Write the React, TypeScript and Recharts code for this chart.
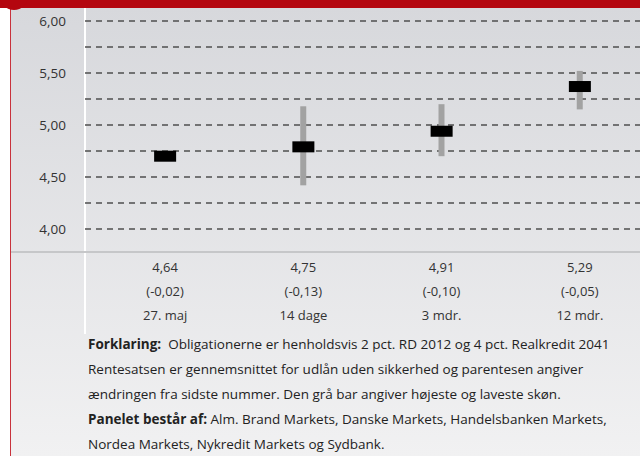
import { Bar, CartesianGrid, ComposedChart, Scatter, XAxis, YAxis } from "recharts";

// values
const categories = ["27. maj", "14 dage", "3 mdr.", "12 mdr."];
const rates = [4.64, 4.75, 4.91, 5.29];
const changes = [-0.02, -0.13, -0.1, -0.05];
const marks = [4.7, 4.79, 4.94, 5.37];
const lows = [null, 4.42, 4.7, 5.15];
const highs = [null, 5.18, 5.2, 5.52];
const yTicks = [4, 4.25, 4.5, 4.75, 5, 5.25, 5.5, 5.75, 6];

const data = categories.map((name, i) => ({
  name,
  mark: marks[i],
  range: lows[i] == null ? null : [lows[i], highs[i]],
}));

const FONT = "'Open Sans', 'Liberation Sans', sans-serif";
const fmt = (v: number) => v.toFixed(2).replace(".", ",");

function CategoryTick(props: any) {
  const { x, y, payload } = props;
  const i = payload.index;
  const style = { fontFamily: FONT, fontSize: 13, fill: "#333" };
  return (
    <g>
      <text x={x} y={y + 35} textAnchor="middle" style={style}>
        {fmt(rates[i])}
      </text>
      <text x={x} y={y + 59} textAnchor="middle" style={style}>
        ({fmt(changes[i])})
      </text>
      <text x={x} y={y + 83} textAnchor="middle" style={style}>
        {categories[i]}
      </text>
    </g>
  );
}

function MarkBox(props: any) {
  const { cx, cy } = props;
  if (cx == null || cy == null) return null;
  return <rect x={cx - 11} y={cy - 5.5} width={22} height={11} fill="#000" />;
}

export default function App() {
  return (
    <div
      style={{
        position: "absolute",
        left: 0,
        top: 0,
        width: 640,
        height: 456,
        overflow: "hidden",
        background: "#fff",
        fontFamily: FONT,
      }}
    >
      {/* panel background */}
      <div
        style={{
          position: "absolute",
          left: 10,
          top: 8,
          right: 0,
          bottom: 0,
          background: "linear-gradient(#d7d8dc, #f1f1f2)",
          borderLeft: "1px solid #c8323c",
        }}
      />
      {/* white column divider */}
      <div style={{ position: "absolute", left: 84, top: 8, width: 1.5, height: 326, background: "#fff" }} />
      {/* separator between plot and table */}
      <div style={{ position: "absolute", left: 11, right: 0, top: 251, height: 2, background: "#c6c7c9" }} />

      <div style={{ position: "absolute", left: 0, top: 0 }}>
        <ComposedChart width={649} height={330} data={data} margin={{ top: 21, right: 0, bottom: 0, left: 10 }}>
          <CartesianGrid vertical={false} stroke="#4f4f4f" strokeDasharray="6 5" strokeWidth={1.3} />
          <XAxis
            dataKey="name"
            axisLine={false}
            tickLine={false}
            height={101}
            padding={{ left: 11, right: 0 }}
            interval={0}
            tick={<CategoryTick />}
          />
          <YAxis
            domain={[4, 6]}
            ticks={yTicks}
            interval={0}
            width={75}
            axisLine={false}
            tickLine={false}
            tickMargin={13}
            tickFormatter={(v: number) => (Math.round(v * 100) % 50 === 0 ? fmt(v) : "")}
            tick={{ fontFamily: FONT, fontSize: 13.5, fill: "#333" }}
          />
          <Bar dataKey="range" barSize={6} fill="#a2a2a2" isAnimationActive={false} />
          <Scatter dataKey="mark" shape={<MarkBox />} isAnimationActive={false} />
        </ComposedChart>
      </div>

      {/* red header strip */}
      <div style={{ position: "absolute", left: 0, top: 0, right: 0, height: 8, background: "#b4060f" }} />
      <div
        style={{
          position: "absolute",
          left: 0,
          top: -18,
          width: 28,
          height: 28,
          borderRadius: 14,
          background: "#b4060f",
        }}
      />

      <div
        style={{
          position: "absolute",
          left: 88,
          top: 332,
          width: 600,
          fontSize: 13.5,
          lineHeight: "25px",
          color: "#222",
          whiteSpace: "nowrap",
        }}
      >
        <div>
          <b>Forklaring:</b>&nbsp; Obligationerne er henholdsvis 2 pct. RD 2012 og 4 pct. Realkredit 2041
        </div>
        <div>Rentesatsen er gennemsnittet for udlån uden sikkerhed og parentesen angiver</div>
        <div>ændringen fra sidste nummer. Den grå bar angiver højeste og laveste skøn.</div>
        <div>
          <b>Panelet består af:</b> Alm. Brand Markets, Danske Markets, Handelsbanken Markets,
        </div>
        <div>Nordea Markets, Nykredit Markets og Sydbank.</div>
      </div>
    </div>
  );
}
